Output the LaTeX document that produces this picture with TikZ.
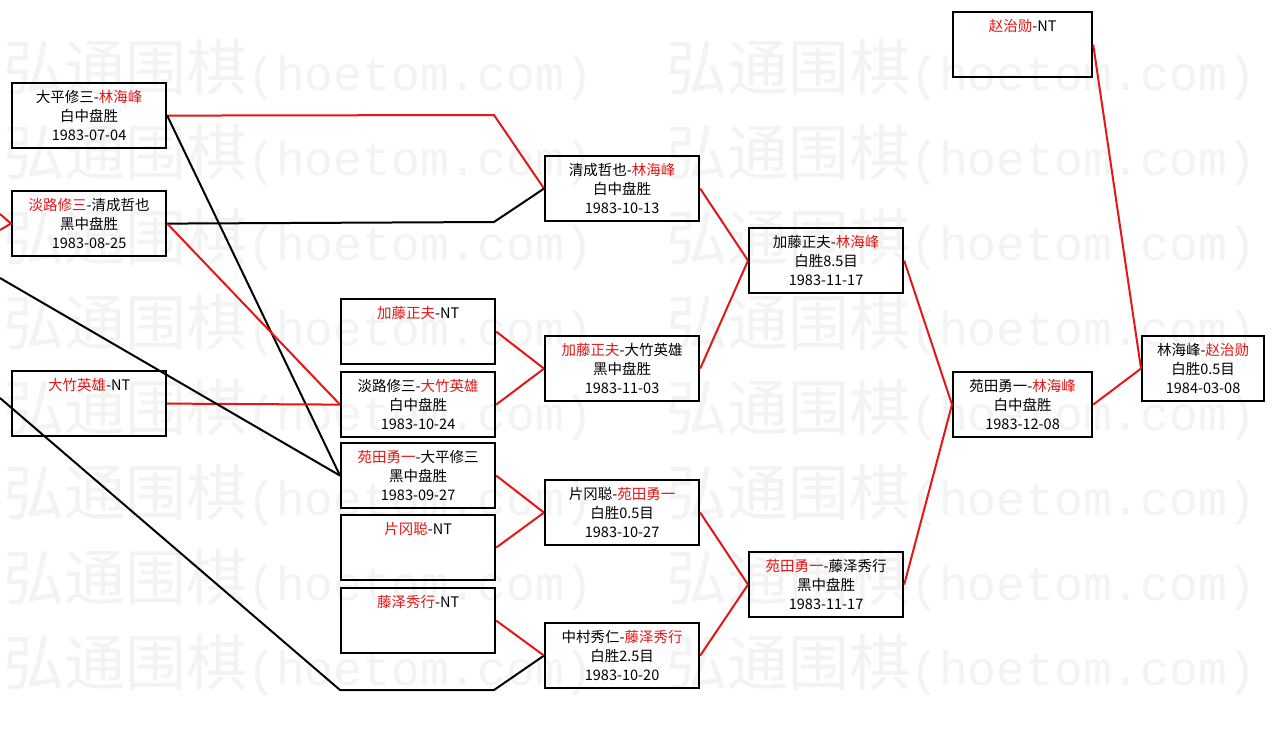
\documentclass[tikz,border=0pt]{standalone}
\usepackage{fontspec}
\newfontfamily\cjk{Noto Sans CJK SC}
\newfontfamily\wmono{Liberation Mono}
\definecolor{wred}{RGB}{228,22,22}
\definecolor{wmark}{RGB}{243,243,243}
\newcommand\rd[1]{\textcolor{wred}{#1}}
\newcommand\wmtext{{\cjk\fontsize{61}{61}\selectfont 弘通围棋}{\wmono\fontsize{48}{48}\selectfont (hoetom.com)}}
\begin{document}
\begin{tikzpicture}[x=1pt,y=-1pt,
  box/.style={draw=black, line width=2.2pt, anchor=north west, inner sep=0pt, align=center,
              minimum height=65, font=\cjk\fontsize{14.5}{19}\selectfont},
  wbox/.style={box, minimum width=154},
  nbox/.style={box, minimum width=139},
  lost/.style={line width=2pt, black},
  won/.style={line width=2pt, wred},
  wm/.style={anchor=west, inner sep=0pt, text=wmark}]
\useasboundingbox (0,0) rectangle (1273,733);
\fill[white] (0,0) rectangle (1273,733);
% watermark
\foreach \y in {70,155,240,325,410,495,580,665}{
  \foreach \x in {3,666}{
    \node[wm] (wm-\x-\y) at (\x,\y) {\wmtext};
  }
}
% boxes
\node[wbox] (A) at (11,82)  {大平修三-\rd{林海峰}\\白中盘胜\\1983-07-04};
\node[wbox] (B) at (11,190) {\rd{淡路修三}-清成哲也\\黑中盘胜\\1983-08-25};
\node[wbox] (C) at (11,370) {\rd{大竹英雄}-NT\\\mbox{}\\\mbox{}};
\node[wbox] (D) at (340,298) {\rd{加藤正夫}-NT\\\mbox{}\\\mbox{}};
\node[wbox] (E) at (340,371) {淡路修三-\rd{大竹英雄}\\白中盘胜\\1983-10-24};
\node[wbox] (F) at (340,442) {\rd{苑田勇一}-大平修三\\黑中盘胜\\1983-09-27};
\node[wbox] (G) at (340,514) {\rd{片冈聪}-NT\\\mbox{}\\\mbox{}};
\node[wbox] (H) at (340,587) {\rd{藤泽秀行}-NT\\\mbox{}\\\mbox{}};
\node[wbox] (I) at (544,155) {清成哲也-\rd{林海峰}\\白中盘胜\\1983-10-13};
\node[wbox] (J) at (544,335) {\rd{加藤正夫}-大竹英雄\\黑中盘胜\\1983-11-03};
\node[wbox] (K) at (544,479) {片冈聪-\rd{苑田勇一}\\白胜0.5目\\1983-10-27};
\node[wbox] (L) at (544,622) {中村秀仁-\rd{藤泽秀行}\\白胜2.5目\\1983-10-20};
\node[wbox] (M) at (748,227) {加藤正夫-\rd{林海峰}\\白胜8.5目\\1983-11-17};
\node[wbox] (N) at (748,551) {\rd{苑田勇一}-藤泽秀行\\黑中盘胜\\1983-11-17};
\node[nbox] (O) at (952,371) {苑田勇一-\rd{林海峰}\\白中盘胜\\1983-12-08};
\node[nbox] (P) at (952,11)  {\rd{赵治勋}-NT\\\mbox{}\\\mbox{}};
\node[box, minimum width=122] (Q) at (1141,335) {林海峰-\rd{赵治勋}\\白胜0.5目\\1984-03-08};
% free ends and bends
\coordinate (in1) at (0,214);
\coordinate (in2) at (0,230);
\coordinate (in3) at (0,278);
\coordinate (in4) at (0,398);
\coordinate (bA) at (494,115);
\coordinate (bB) at (494,222);
\coordinate (bL1) at (340,690);
\coordinate (bL2) at (494,690);
% connectors
\draw[won] (in1) -- (B.west) -- (in2);
\draw[won] (A.east) -- (bA) -- (I.west);
\draw[lost] (B.east) -- (bB) -- (I.west);
\draw[lost] (A.east) -- (F.west);
\draw[won] (B.east) -- (E.west);
\draw[won] (C.east) -- (E.west);
\draw[lost] (in3) -- (F.west);
\draw[lost] (in4) -- (bL1) -- (bL2) -- (L.west);
\draw[won] (D.east) -- (J.west);
\draw[won] (E.east) -- (J.west);
\draw[won] (F.east) -- (K.west);
\draw[won] (G.east) -- (K.west);
\draw[won] (H.east) -- (L.west);
\draw[won] (I.east) -- (M.west);
\draw[won] (J.east) -- (M.west);
\draw[won] (K.east) -- (N.west);
\draw[won] (L.east) -- (N.west);
\draw[won] (M.east) -- (O.west);
\draw[won] (N.east) -- (O.west);
\draw[won] (O.east) -- (Q.west);
\draw[won] (P.east) -- (Q.west);
\end{tikzpicture}
\end{document}
